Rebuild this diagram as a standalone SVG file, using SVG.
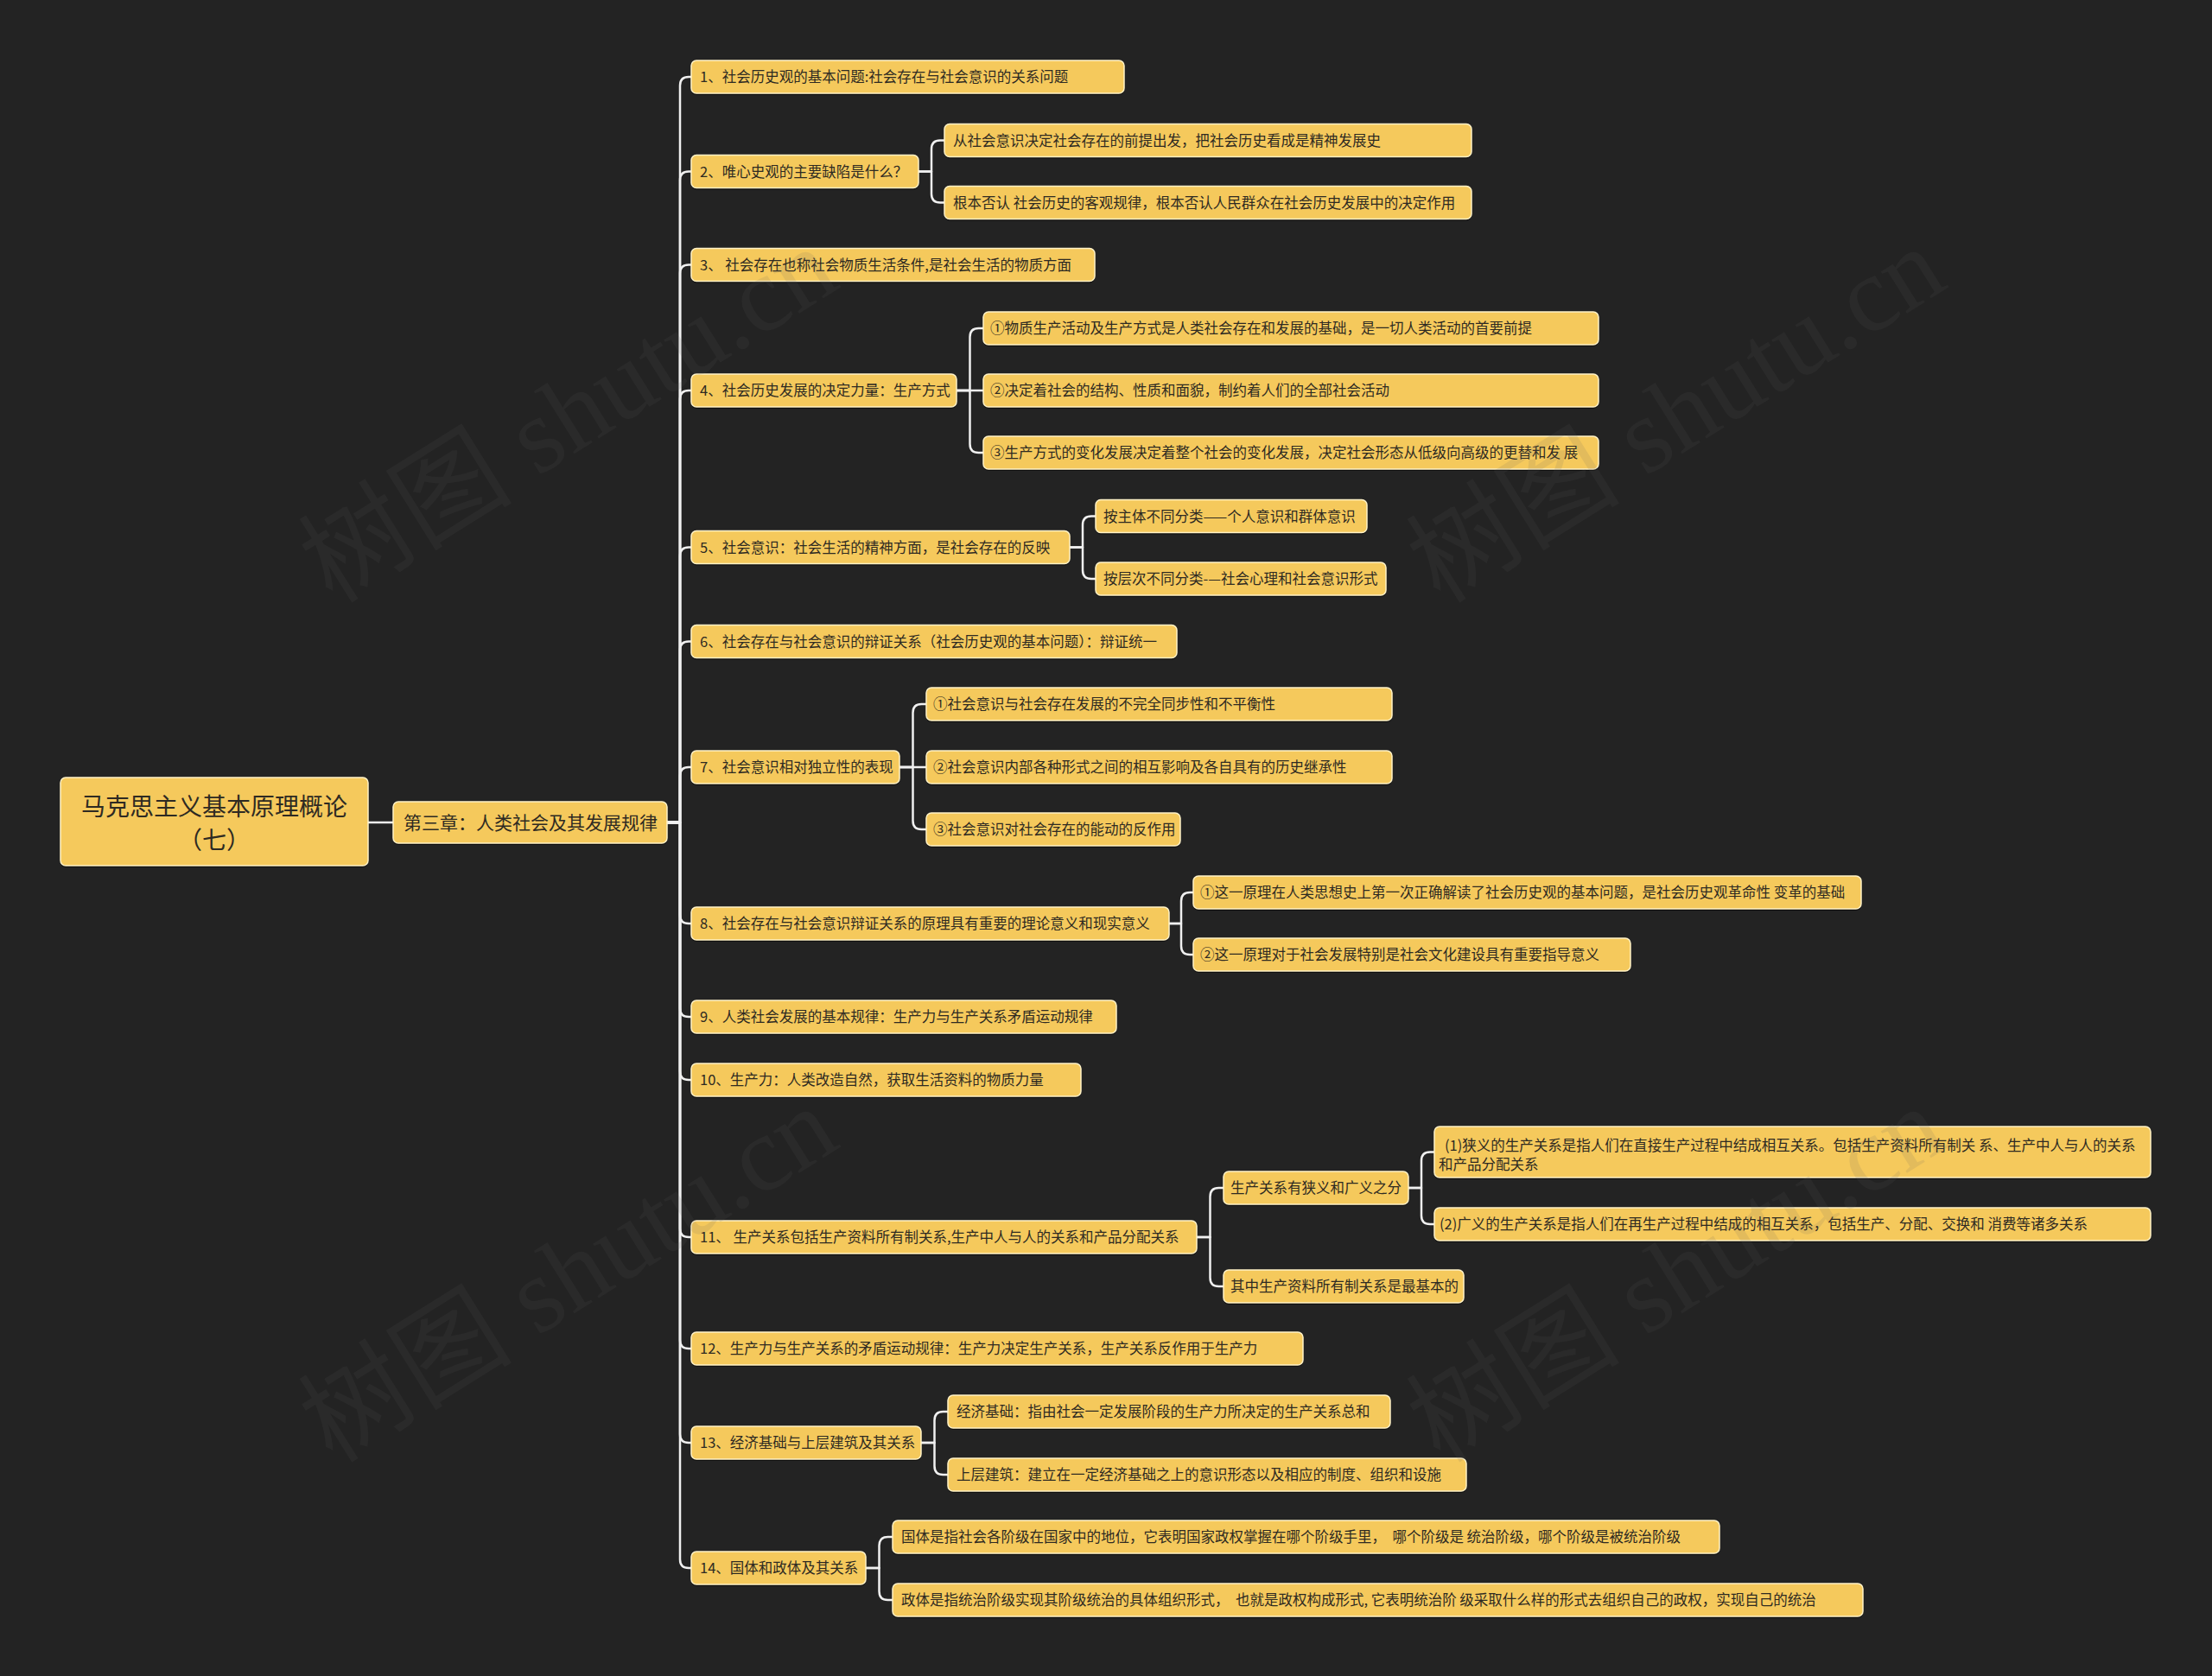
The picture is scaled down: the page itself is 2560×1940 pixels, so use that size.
<svg xmlns="http://www.w3.org/2000/svg" width="2560" height="1940" viewBox="0 0 2560 1940">
<style>
.bg{fill:#232323}
.box{fill:#F5C95C;stroke:#FFF2C6;stroke-width:1.5}
.sh{fill:#000;opacity:.55}
.t{font-family:"Noto Sans CJK SC","Noto Sans",sans-serif;font-size:16.5px;fill:#2e2a22;white-space:pre}
.t21{font-size:21px}
.t28{font-size:28px}
#connectors path{fill:none;stroke:#F0F0F0;stroke-width:2.5;stroke-linecap:round;stroke-linejoin:round}
.wm{font-family:"Liberation Serif","Noto Sans CJK SC",serif;font-size:124px;fill:#606060;opacity:.12}
</style>
<rect class="bg" x="0" y="0" width="2560" height="1940"/>

<g id="connectors">
<path d="M426 952H455"/>
<path d="M772 952H787V99Q787 89 797 89H800"/>
<path d="M772 952H787V208.5Q787 198.5 797 198.5H800"/>
<path d="M772 952H787V316.5Q787 306.5 797 306.5H800"/>
<path d="M772 952H787V462Q787 452 797 452H800"/>
<path d="M772 952H787V643.5Q787 633.5 797 633.5H800"/>
<path d="M772 952H787V752.5Q787 742.5 797 742.5H800"/>
<path d="M772 952H787V898Q787 888 797 888H800"/>
<path d="M772 952H787V1059Q787 1069 797 1069H800"/>
<path d="M772 952H787V1167Q787 1177 797 1177H800"/>
<path d="M772 952H787V1240Q787 1250 797 1250H800"/>
<path d="M772 952H787V1422Q787 1432 797 1432H800"/>
<path d="M772 952H787V1551Q787 1561 797 1561H800"/>
<path d="M772 952H787V1660Q787 1670 797 1670H800"/>
<path d="M772 952H787V1805Q787 1815 797 1815H800"/>
<path d="M1063 198.5H1078V172.5Q1078 162.5 1088 162.5H1093"/>
<path d="M1063 198.5H1078V224.5Q1078 234.5 1088 234.5H1093"/>
<path d="M1107 452H1122.5V390Q1122.5 380 1132.5 380H1138"/>
<path d="M1107 452H1138"/>
<path d="M1107 452H1122.5V514Q1122.5 524 1132.5 524H1138"/>
<path d="M1238 633.5H1253V607.5Q1253 597.5 1263 597.5H1268"/>
<path d="M1238 633.5H1253V660Q1253 670 1263 670H1268"/>
<path d="M1041 888H1056.5V825Q1056.5 815 1066.5 815H1072"/>
<path d="M1041 888H1072"/>
<path d="M1041 888H1056.5V950Q1056.5 960 1066.5 960H1072"/>
<path d="M1353 1069H1367V1043Q1367 1033 1377 1033H1381"/>
<path d="M1353 1069H1367V1095Q1367 1105 1377 1105H1381"/>
<path d="M1385 1432H1400.5V1385Q1400.5 1375 1410.5 1375H1416"/>
<path d="M1385 1432H1400.5V1479Q1400.5 1489 1410.5 1489H1416"/>
<path d="M1630 1375H1645V1343.5Q1645 1333.5 1655 1333.5H1660"/>
<path d="M1630 1375H1645V1407Q1645 1417 1655 1417H1660"/>
<path d="M1066 1670H1081.5V1644Q1081.5 1634 1091.5 1634H1097"/>
<path d="M1066 1670H1081.5V1697Q1081.5 1707 1091.5 1707H1097"/>
<path d="M1002 1815H1017.5V1789Q1017.5 1779 1027.5 1779H1033"/>
<path d="M1002 1815H1017.5V1842Q1017.5 1852 1027.5 1852H1033"/>
</g>

<g id="root"><rect class="sh" x="70" y="902" width="356" height="102" rx="6"/><rect class="box" x="70" y="900" width="356" height="102" rx="6"/><text class="t t28" x="248" y="943.5" text-anchor="middle">马克思主义基本原理概论</text><text class="t t28" x="248" y="982.5" text-anchor="middle">（七）</text></g>
<g id="chapter"><rect class="sh" x="455" y="930" width="317" height="48" rx="6"/><rect class="box" x="455" y="928" width="317" height="48" rx="6"/><text class="t t21" x="467" y="959.5">第三章：人类社会及其发展规律</text></g>

<g id="n1"><rect class="sh" x="800" y="72" width="501" height="38" rx="6"/><rect class="box" x="800" y="70" width="501" height="38" rx="6"/><text class="t" x="810" y="95">1、社会历史观的基本问题:社会存在与社会意识的关系问题</text></g>
<g id="n2"><rect class="sh" x="800" y="181.5" width="263" height="38" rx="6"/><rect class="box" x="800" y="179.5" width="263" height="38" rx="6"/><text class="t" x="810" y="204.5">2、唯心史观的主要缺陷是什么？</text></g>
<g id="n2a"><rect class="sh" x="1093" y="145.5" width="610" height="38" rx="6"/><rect class="box" x="1093" y="143.5" width="610" height="38" rx="6"/><text class="t" x="1103" y="168.5">从社会意识决定社会存在的前提出发，把社会历史看成是精神发展史</text></g>
<g id="n2b"><rect class="sh" x="1093" y="217.5" width="610" height="38" rx="6"/><rect class="box" x="1093" y="215.5" width="610" height="38" rx="6"/><text class="t" x="1103" y="240.5">根本否认 社会历史的客观规律，根本否认人民群众在社会历史发展中的决定作用</text></g>
<g id="n3"><rect class="sh" x="800" y="289.5" width="467" height="38" rx="6"/><rect class="box" x="800" y="287.5" width="467" height="38" rx="6"/><text class="t" x="810" y="312.5">3、 社会存在也称社会物质生活条件,是社会生活的物质方面</text></g>
<g id="n4"><rect class="sh" x="800" y="435" width="307" height="38" rx="6"/><rect class="box" x="800" y="433" width="307" height="38" rx="6"/><text class="t" x="810" y="458">4、社会历史发展的决定力量：生产方式</text></g>
<g id="n4a"><rect class="sh" x="1138" y="363" width="712" height="38" rx="6"/><rect class="box" x="1138" y="361" width="712" height="38" rx="6"/><text class="t" x="1146" y="386">①物质生产活动及生产方式是人类社会存在和发展的基础，是一切人类活动的首要前提</text></g>
<g id="n4b"><rect class="sh" x="1138" y="435" width="712" height="38" rx="6"/><rect class="box" x="1138" y="433" width="712" height="38" rx="6"/><text class="t" x="1146" y="458">②决定着社会的结构、性质和面貌，制约着人们的全部社会活动</text></g>
<g id="n4c"><rect class="sh" x="1138" y="507" width="712" height="38" rx="6"/><rect class="box" x="1138" y="505" width="712" height="38" rx="6"/><text class="t" x="1146" y="530">③生产方式的变化发展决定着整个社会的变化发展，决定社会形态从低级向高级的更替和发 展</text></g>
<g id="n5"><rect class="sh" x="800" y="616.5" width="438" height="38" rx="6"/><rect class="box" x="800" y="614.5" width="438" height="38" rx="6"/><text class="t" x="810" y="639.5">5、社会意识：社会生活的精神方面，是社会存在的反映</text></g>
<g id="n5a"><rect class="sh" x="1268" y="580.5" width="314" height="38" rx="6"/><rect class="box" x="1268" y="578.5" width="314" height="38" rx="6"/><text class="t" x="1277" y="603.5">按主体不同分类——个人意识和群体意识</text></g>
<g id="n5b"><rect class="sh" x="1268" y="653" width="336" height="38" rx="6"/><rect class="box" x="1268" y="651" width="336" height="38" rx="6"/><text class="t" x="1277" y="676">按层次不同分类-—社会心理和社会意识形式</text></g>
<g id="n6"><rect class="sh" x="800" y="725.5" width="562" height="38" rx="6"/><rect class="box" x="800" y="723.5" width="562" height="38" rx="6"/><text class="t" x="810" y="748.5">6、社会存在与社会意识的辩证关系（社会历史观的基本问题）：辩证统一</text></g>
<g id="n7"><rect class="sh" x="800" y="871" width="241" height="38" rx="6"/><rect class="box" x="800" y="869" width="241" height="38" rx="6"/><text class="t" x="810" y="894">7、社会意识相对独立性的表现</text></g>
<g id="n7a"><rect class="sh" x="1072" y="798" width="539" height="38" rx="6"/><rect class="box" x="1072" y="796" width="539" height="38" rx="6"/><text class="t" x="1080" y="821">①社会意识与社会存在发展的不完全同步性和不平衡性</text></g>
<g id="n7b"><rect class="sh" x="1072" y="871" width="539" height="38" rx="6"/><rect class="box" x="1072" y="869" width="539" height="38" rx="6"/><text class="t" x="1080" y="894">②社会意识内部各种形式之间的相互影响及各自具有的历史继承性</text></g>
<g id="n7c"><rect class="sh" x="1072" y="943" width="294" height="38" rx="6"/><rect class="box" x="1072" y="941" width="294" height="38" rx="6"/><text class="t" x="1080" y="966">③社会意识对社会存在的能动的反作用</text></g>
<g id="n8"><rect class="sh" x="800" y="1052" width="553" height="38" rx="6"/><rect class="box" x="800" y="1050" width="553" height="38" rx="6"/><text class="t" x="810" y="1075">8、社会存在与社会意识辩证关系的原理具有重要的理论意义和现实意义</text></g>
<g id="n8a"><rect class="sh" x="1381" y="1016" width="773" height="38" rx="6"/><rect class="box" x="1381" y="1014" width="773" height="38" rx="6"/><text class="t" x="1389" y="1039">①这一原理在人类思想史上第一次正确解读了社会历史观的基本问题，是社会历史观革命性 变革的基础</text></g>
<g id="n8b"><rect class="sh" x="1381" y="1088" width="506" height="38" rx="6"/><rect class="box" x="1381" y="1086" width="506" height="38" rx="6"/><text class="t" x="1389" y="1111">②这一原理对于社会发展特别是社会文化建设具有重要指导意义</text></g>
<g id="n9"><rect class="sh" x="800" y="1160" width="492" height="38" rx="6"/><rect class="box" x="800" y="1158" width="492" height="38" rx="6"/><text class="t" x="810" y="1183">9、人类社会发展的基本规律：生产力与生产关系矛盾运动规律</text></g>
<g id="n10"><rect class="sh" x="800" y="1233" width="451" height="38" rx="6"/><rect class="box" x="800" y="1231" width="451" height="38" rx="6"/><text class="t" x="810" y="1256">10、生产力：人类改造自然，获取生活资料的物质力量</text></g>
<g id="n11"><rect class="sh" x="800" y="1415" width="585" height="38" rx="6"/><rect class="box" x="800" y="1413" width="585" height="38" rx="6"/><text class="t" x="810" y="1438">11、 生产关系包括生产资料所有制关系,生产中人与人的关系和产品分配关系</text></g>
<g id="n11a"><rect class="sh" x="1416" y="1358" width="214" height="38" rx="6"/><rect class="box" x="1416" y="1356" width="214" height="38" rx="6"/><text class="t" x="1424" y="1381">生产关系有狭义和广义之分</text></g>
<g id="n11a1"><rect class="sh" x="1660" y="1306" width="829" height="59" rx="6"/><rect class="box" x="1660" y="1304" width="829" height="59" rx="6"/><text class="t" x="1672" y="1332">(1)狭义的生产关系是指人们在直接生产过程中结成相互关系。包括生产资料所有制关 系、生产中人与人的关系</text><text class="t" x="1665" y="1354">和产品分配关系</text></g>
<g id="n11a2"><rect class="sh" x="1660" y="1400" width="829" height="38" rx="6"/><rect class="box" x="1660" y="1398" width="829" height="38" rx="6"/><text class="t" x="1666" y="1423">(2)广义的生产关系是指人们在再生产过程中结成的相互关系，包括生产、分配、交换和 消费等诸多关系</text></g>
<g id="n11b"><rect class="sh" x="1416" y="1472" width="278" height="38" rx="6"/><rect class="box" x="1416" y="1470" width="278" height="38" rx="6"/><text class="t" x="1424" y="1495">其中生产资料所有制关系是最基本的</text></g>
<g id="n12"><rect class="sh" x="800" y="1544" width="708" height="38" rx="6"/><rect class="box" x="800" y="1542" width="708" height="38" rx="6"/><text class="t" x="810" y="1567">12、生产力与生产关系的矛盾运动规律：生产力决定生产关系，生产关系反作用于生产力</text></g>
<g id="n13"><rect class="sh" x="800" y="1653" width="266" height="38" rx="6"/><rect class="box" x="800" y="1651" width="266" height="38" rx="6"/><text class="t" x="810" y="1676">13、经济基础与上层建筑及其关系</text></g>
<g id="n13a"><rect class="sh" x="1097" y="1617" width="512" height="38" rx="6"/><rect class="box" x="1097" y="1615" width="512" height="38" rx="6"/><text class="t" x="1107" y="1640">经济基础：指由社会一定发展阶段的生产力所决定的生产关系总和</text></g>
<g id="n13b"><rect class="sh" x="1097" y="1690" width="600" height="38" rx="6"/><rect class="box" x="1097" y="1688" width="600" height="38" rx="6"/><text class="t" x="1107" y="1713">上层建筑：建立在一定经济基础之上的意识形态以及相应的制度、组织和设施</text></g>
<g id="n14"><rect class="sh" x="800" y="1798" width="202" height="38" rx="6"/><rect class="box" x="800" y="1796" width="202" height="38" rx="6"/><text class="t" x="810" y="1821">14、国体和政体及其关系</text></g>
<g id="n14a"><rect class="sh" x="1033" y="1762" width="957" height="38" rx="6"/><rect class="box" x="1033" y="1760" width="957" height="38" rx="6"/><text class="t" x="1043" y="1785">国体是指社会各阶级在国家中的地位，它表明国家政权掌握在哪个阶级手里，  哪个阶级是 统治阶级，哪个阶级是被统治阶级</text></g>
<g id="n14b"><rect class="sh" x="1033" y="1835" width="1123" height="38" rx="6"/><rect class="box" x="1033" y="1833" width="1123" height="38" rx="6"/><text class="t" x="1043" y="1858">政体是指统治阶级实现其阶级统治的具体组织形式，  也就是政权构成形式, 它表明统治阶 级采取什么样的形式去组织自己的政权，实现自己的统治</text></g>

<g id="watermarks">
<text class="wm" transform="translate(385 700) rotate(-32)">树图 shutu.cn</text>
<text class="wm" transform="translate(1667 700) rotate(-32)">树图 shutu.cn</text>
<text class="wm" transform="translate(385 1695) rotate(-32)">树图 shutu.cn</text>
<text class="wm" transform="translate(1667 1695) rotate(-32)">树图 shutu.cn</text>
</g>
</svg>
